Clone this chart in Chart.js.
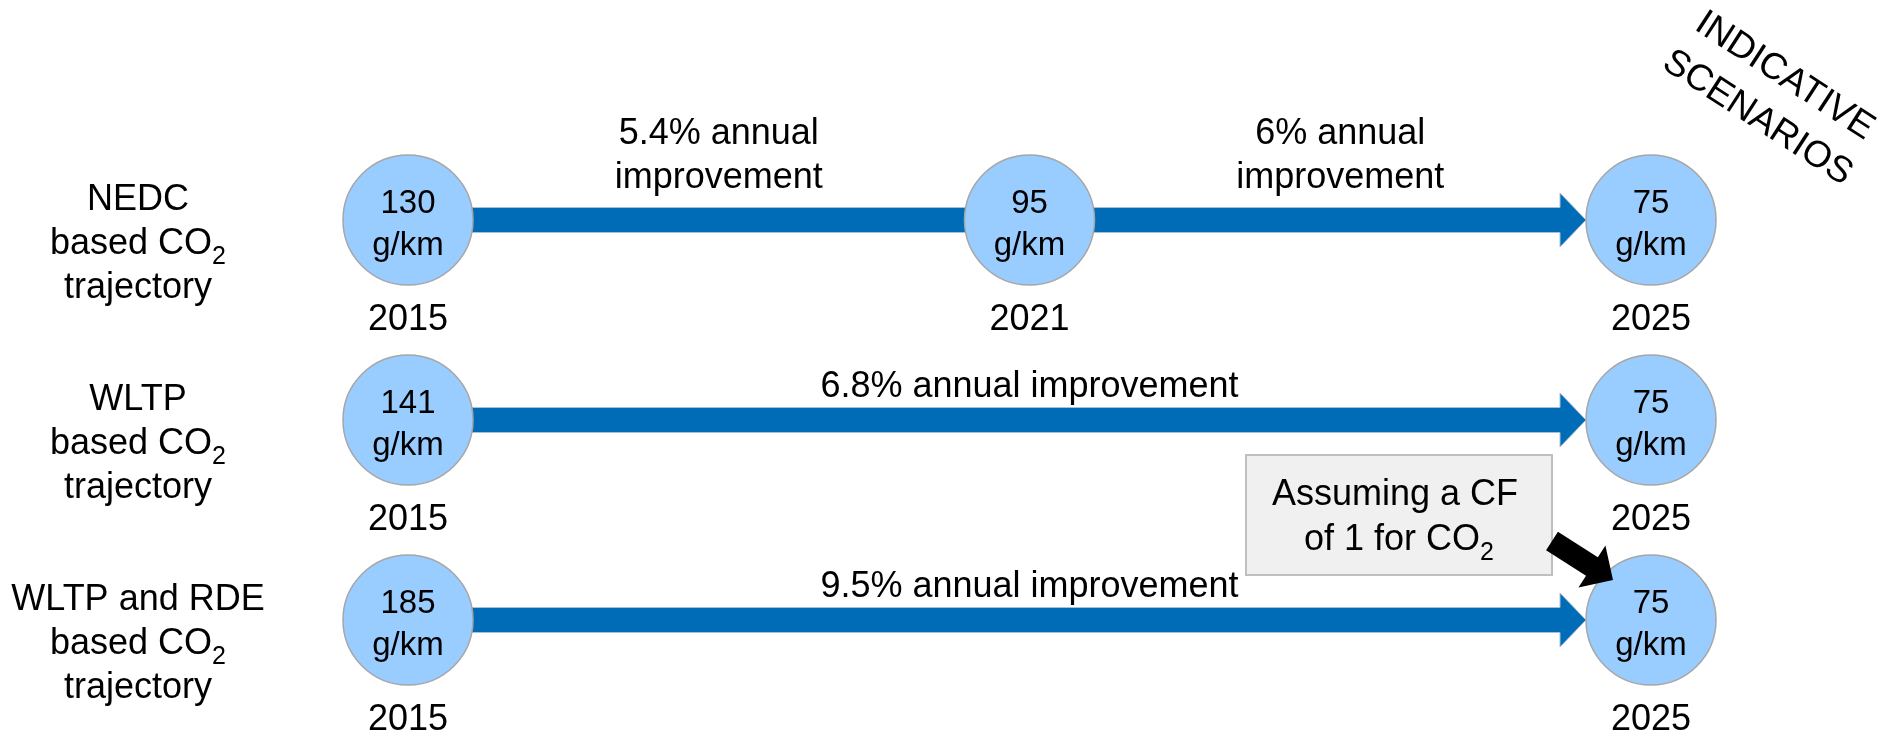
<!DOCTYPE html>
<html>
<head>
<meta charset="utf-8">
<title>CO2 trajectories</title>
<script src="https://cdn.jsdelivr.net/npm/chart.js@4.4.1/dist/chart.umd.min.js"></script>
<style>
  html, body { margin: 0; padding: 0; background: #ffffff; }
  #wrap { width: 1898px; height: 735px; }
</style>
</head>
<body>
<div id="wrap"><canvas id="trajectoryChart" width="1898" height="735"></canvas></div>
<script>
// Milestone years (columns) and test procedures (rows)
const years = ["2015", "2021", "2025"];
const scenarios = ["NEDC", "WLTP", "WLTP and RDE"];

// CO2 targets in g/km, null where the row has no milestone
const nedcTargets = [130, 95, 75];
const wltpTargets = [141, null, 75];
const rdeTargets = [185, null, 75];

// Annual improvement between milestones (%)
const nedcRates = [5.4, 6];
const wltpRates = [6.8];
const rdeRates = [9.5];

const rowTargets = [nedcTargets, wltpTargets, rdeTargets];
const rowRates = [nedcRates, wltpRates, rdeRates];

// Styles
const FONT = '"Liberation Sans", Arial, Helvetica, sans-serif';
const colors = {
  circle: "#99ccff",
  circleBorder: "#a6a6a6",
  arrow: "#006bb6",
  arrowEdge: "#a9bfd3",
  text: "#000000",
  boxFill: "#f0f0f0",
  boxBorder: "#bfbfbf",
};
const circleRadius = 65;

function font(size) {
  return size + "px " + FONT;
}

// text with an optional subscript part, centred on cx
function drawRich(ctx, parts, cx, baseline, size) {
  const subSize = Math.round(size * 0.69);
  const widths = parts.map((p) => {
    ctx.font = font(p.sub ? subSize : size);
    return ctx.measureText(p.t).width;
  });
  let x = cx - widths.reduce((a, b) => a + b, 0) / 2;
  ctx.textAlign = "left";
  parts.forEach((p, k) => {
    ctx.font = font(p.sub ? subSize : size);
    ctx.fillText(p.t, x, baseline + (p.sub ? Math.round(size * 0.28) : 0));
    x += widths[k];
  });
}

// thick horizontal block arrow (optionally without a head)
function drawBlockArrow(ctx, x0, x1, cy, withHead) {
  const half = 12.5, headHalf = 27, headLen = 26;
  ctx.beginPath();
  if (withHead) {
    ctx.moveTo(x0, cy - half);
    ctx.lineTo(x1 - headLen, cy - half);
    ctx.lineTo(x1 - headLen, cy - headHalf);
    ctx.lineTo(x1, cy);
    ctx.lineTo(x1 - headLen, cy + headHalf);
    ctx.lineTo(x1 - headLen, cy + half);
    ctx.lineTo(x0, cy + half);
  } else {
    ctx.rect(x0, cy - half, x1 - x0, half * 2);
  }
  ctx.closePath();
  ctx.fillStyle = colors.arrow;
  ctx.fill();
  ctx.lineWidth = 1;
  ctx.strokeStyle = colors.arrowEdge;
  ctx.stroke();
}

const diagramPlugin = {
  id: "diagram",
  beforeDatasetsDraw(chart) {
    const ctx = chart.ctx;
    const xs = chart.scales.x, ys = chart.scales.y;
    ctx.save();
    scenarios.forEach((s, i) => {
      const cy = ys.getPixelForValue(i);
      const idx = years.map((_, j) => j).filter((j) => rowTargets[i][j] != null);
      for (let k = 0; k < idx.length - 1; k++) {
        const xa = xs.getPixelForValue(idx[k]);
        const xb = xs.getPixelForValue(idx[k + 1]);
        const last = k === idx.length - 2;
        drawBlockArrow(ctx, xa, last ? xb - circleRadius : xb, cy, last);
      }
    });
    ctx.restore();
  },
  afterDatasetsDraw(chart) {
    const ctx = chart.ctx;
    const xs = chart.scales.x, ys = chart.scales.y;
    const area = chart.chartArea;
    ctx.save();
    ctx.fillStyle = colors.text;
    ctx.textBaseline = "alphabetic";

    // values inside the circles and years below them
    chart.data.datasets.forEach((ds, i) => {
      chart.getDatasetMeta(i).data.forEach((pt, k) => {
        ctx.textAlign = "center";
        ctx.font = font(33);
        ctx.fillText(String(ds.data[k].v), pt.x, pt.y - 7);
        ctx.fillText("g/km", pt.x, pt.y + 35);
        ctx.font = font(36);
        ctx.fillText(ds.data[k].x, pt.x, pt.y + 110);
      });
    });

    // row titles on the left
    const labelX = area.left - 270;
    scenarios.forEach((s, i) => {
      const cy = ys.getPixelForValue(i);
      ctx.textAlign = "center";
      ctx.font = font(36);
      ctx.fillText(s, labelX, cy - 10);
      drawRich(ctx, [{ t: "based CO" }, { t: "2", sub: true }], labelX, cy + 34, 36);
      ctx.textAlign = "center";
      ctx.font = font(36);
      ctx.fillText("trajectory", labelX, cy + 78);
    });

    // annual improvement labels
    scenarios.forEach((s, i) => {
      const cy = ys.getPixelForValue(i);
      const rates = rowRates[i];
      const idx = years.map((_, j) => j).filter((j) => rowTargets[i][j] != null);
      ctx.textAlign = "center";
      ctx.font = font(36);
      if (idx.length > 2) {
        rates.forEach((r, k) => {
          const mx = (xs.getPixelForValue(idx[k]) + xs.getPixelForValue(idx[k + 1])) / 2;
          ctx.fillText(r + "% annual", mx, cy - 76);
          ctx.fillText("improvement", mx, cy - 32);
        });
      } else {
        ctx.fillText(rates[0] + "% annual improvement", xs.getPixelForValue(1), cy - 23);
      }
    });

    // callout box pointing at the last RDE circle
    const tx = xs.getPixelForValue(years.length - 1);
    const ty = ys.getPixelForValue(scenarios.length - 1);
    const bx0 = tx - 405, bx1 = tx - 99, by0 = ty - 165, by1 = ty - 45;
    ctx.fillStyle = colors.boxFill;
    ctx.fillRect(bx0, by0, bx1 - bx0, by1 - by0);
    ctx.lineWidth = 2;
    ctx.strokeStyle = colors.boxBorder;
    ctx.strokeRect(bx0, by0, bx1 - bx0, by1 - by0);
    ctx.fillStyle = colors.text;
    ctx.textAlign = "center";
    ctx.font = font(36);
    const bcx = (bx0 + bx1) / 2;
    ctx.fillText("Assuming a CF", bcx - 4, ty - 115);
    drawRich(ctx, [{ t: "of 1 for CO" }, { t: "2", sub: true }], bcx, ty - 70, 36);

    // black arrow from the callout to the circle
    const sx = bx1, sy = ty - 79, ex = tx - 38, ey = ty - 40;
    const ang = Math.atan2(ey - sy, ex - sx);
    const len = Math.hypot(ex - sx, ey - sy);
    ctx.save();
    ctx.translate(sx, sy);
    ctx.rotate(ang);
    ctx.beginPath();
    ctx.moveTo(0, -11);
    ctx.lineTo(len - 25, -11);
    ctx.lineTo(len - 25, -25);
    ctx.lineTo(len, 0);
    ctx.lineTo(len - 25, 25);
    ctx.lineTo(len - 25, 11);
    ctx.lineTo(0, 11);
    ctx.closePath();
    ctx.fillStyle = "#000000";
    ctx.fill();
    ctx.restore();

    // rotated stamp in the top-right corner
    ctx.save();
    ctx.translate(chart.width - 127, 97);
    ctx.rotate((33 * Math.PI) / 180);
    ctx.fillStyle = colors.text;
    ctx.textAlign = "center";
    ctx.textBaseline = "middle";
    ctx.font = font(37);
    ctx.fillText("INDICATIVE", 0, -25);
    ctx.fillText("SCENARIOS", 0, 25);
    ctx.restore();

    ctx.restore();
  },
};

const ctx = document.getElementById("trajectoryChart").getContext("2d");
const trajectoryChart = new Chart(ctx, {
  type: "scatter",
  data: {
    datasets: scenarios.map((s, i) => ({
      label: s,
      data: years
        .map((yr, j) => (rowTargets[i][j] == null ? null : { x: yr, y: s, v: rowTargets[i][j] }))
        .filter(Boolean),
      pointRadius: circleRadius,
      pointHoverRadius: circleRadius,
      pointBackgroundColor: colors.circle,
      pointBorderColor: colors.circleBorder,
      pointBorderWidth: 1.5,
      showLine: false,
      clip: false,
    })),
  },
  options: {
    responsive: false,
    animation: false,
    events: [],
    layout: {
      padding: { left: 408, right: 247, top: 220, bottom: 115 },
    },
    scales: {
      x: { type: "category", labels: years, offset: false, display: false },
      y: { type: "category", labels: scenarios, offset: false, display: false },
    },
    plugins: {
      legend: { display: false },
      tooltip: { enabled: false },
    },
  },
  plugins: [diagramPlugin],
});
</script>
</body>
</html>
